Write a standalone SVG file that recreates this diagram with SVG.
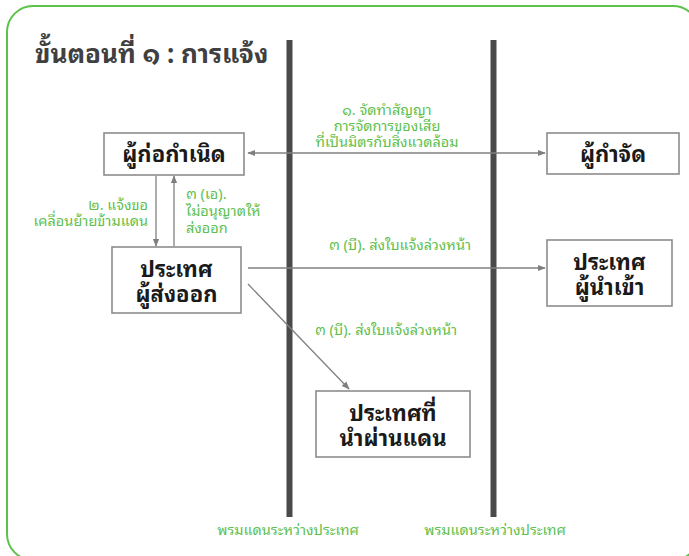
<svg xmlns="http://www.w3.org/2000/svg" width="689" height="556" viewBox="0 0 689 556">
<defs>
<marker id="ah" viewBox="0 0 10 10" refX="9" refY="5" markerWidth="8" markerHeight="8" markerUnits="userSpaceOnUse" orient="auto-start-reverse">
<path d="M0,1 L10,5 L0,9 Z" fill="#7f7f7f"/>
</marker>
</defs>
<style>
.box{fill:#ffffff;stroke:#8c8c8c;stroke-width:1.6}
.nt{font-family:"Noto Sans Thai Looped","Noto Sans Thai","DejaVu Sans",sans-serif;font-size:22px;font-weight:bold;fill:#1a1a1a;text-anchor:middle}
.lb{font-family:"Noto Sans Thai Looped","Noto Sans Thai","DejaVu Sans",sans-serif;font-size:14.5px;fill:#5fbf4f}
.cn{stroke:#808080;stroke-width:1.3;fill:none}
.bar{fill:#4a4a4a}
</style>
<rect x="7" y="6" width="692" height="554" rx="26" ry="26" fill="#ffffff" stroke="#5cc24a" stroke-width="2"/>
<text x="35" y="63" font-family="'Noto Sans Thai Looped','Noto Sans Thai','DejaVu Sans',sans-serif" font-size="26" font-weight="bold" fill="#404040">ขั้นตอนที่ ๑ : การแจ้ง</text>
<g id="borders">
<rect class="bar" x="286.5" y="40" width="6" height="477"/>
<rect class="bar" x="490.5" y="40" width="6" height="477"/>
<text class="lb" x="288" y="535" text-anchor="middle">พรมแดนระหว่างประเทศ</text>
<text class="lb" x="495" y="535" text-anchor="middle">พรมแดนระหว่างประเทศ</text>
</g>
<g id="connectors">
<line class="cn" x1="248" y1="153" x2="545" y2="153" marker-start="url(#ah)" marker-end="url(#ah)"/>
<line class="cn" x1="156" y1="176" x2="156" y2="246" marker-end="url(#ah)"/>
<line class="cn" x1="174" y1="246" x2="174" y2="176" marker-end="url(#ah)"/>
<line class="cn" x1="248" y1="268" x2="545" y2="268" marker-end="url(#ah)"/>
<line class="cn" x1="248" y1="284" x2="349" y2="389" marker-end="url(#ah)"/>
<text class="lb" text-anchor="middle"><tspan x="387" y="115">๑.  จัดทำสัญญา</tspan><tspan x="387" y="131">การจัดการของเสีย</tspan><tspan x="387" y="147">ที่เป็นมิตรกับสิ่งแวดล้อม</tspan></text>
<text class="lb" text-anchor="end"><tspan x="148" y="210">๒.  แจ้งขอ</tspan><tspan x="148" y="226">เคลื่อนย้ายข้ามแดน</tspan></text>
<text class="lb"><tspan x="186" y="199">๓ (เอ).</tspan><tspan x="186" y="216">ไม่อนุญาตให้</tspan><tspan x="186" y="233">ส่งออก</tspan></text>
<text class="lb" x="400" y="250" text-anchor="middle">๓ (บี). ส่งใบแจ้งล่วงหน้า</text>
<text class="lb" x="386" y="335" text-anchor="middle">๓ (บี). ส่งใบแจ้งล่วงหน้า</text>
</g>
<g id="generator">
<rect class="box" x="104" y="133" width="140" height="42"/>
<text class="nt" x="174" y="162">ผู้ก่อกำเนิด</text>
</g>
<g id="disposer">
<rect class="box" x="547" y="133" width="132" height="41"/>
<text class="nt" x="613" y="162">ผู้กำจัด</text>
</g>
<g id="exporter">
<rect class="box" x="112" y="247" width="129" height="66"/>
<text class="nt" x="176.5" y="277">ประเทศ</text>
<text class="nt" x="176.5" y="302">ผู้ส่งออก</text>
</g>
<g id="importer">
<rect class="box" x="547" y="240" width="125" height="66"/>
<text class="nt" x="609.5" y="270">ประเทศ</text>
<text class="nt" x="609.5" y="295">ผู้นำเข้า</text>
</g>
<g id="transit">
<rect class="box" x="316" y="391" width="154" height="66"/>
<text class="nt" x="393" y="421">ประเทศที่</text>
<text class="nt" x="393" y="446">นำผ่านแดน</text>
</g>
</svg>
